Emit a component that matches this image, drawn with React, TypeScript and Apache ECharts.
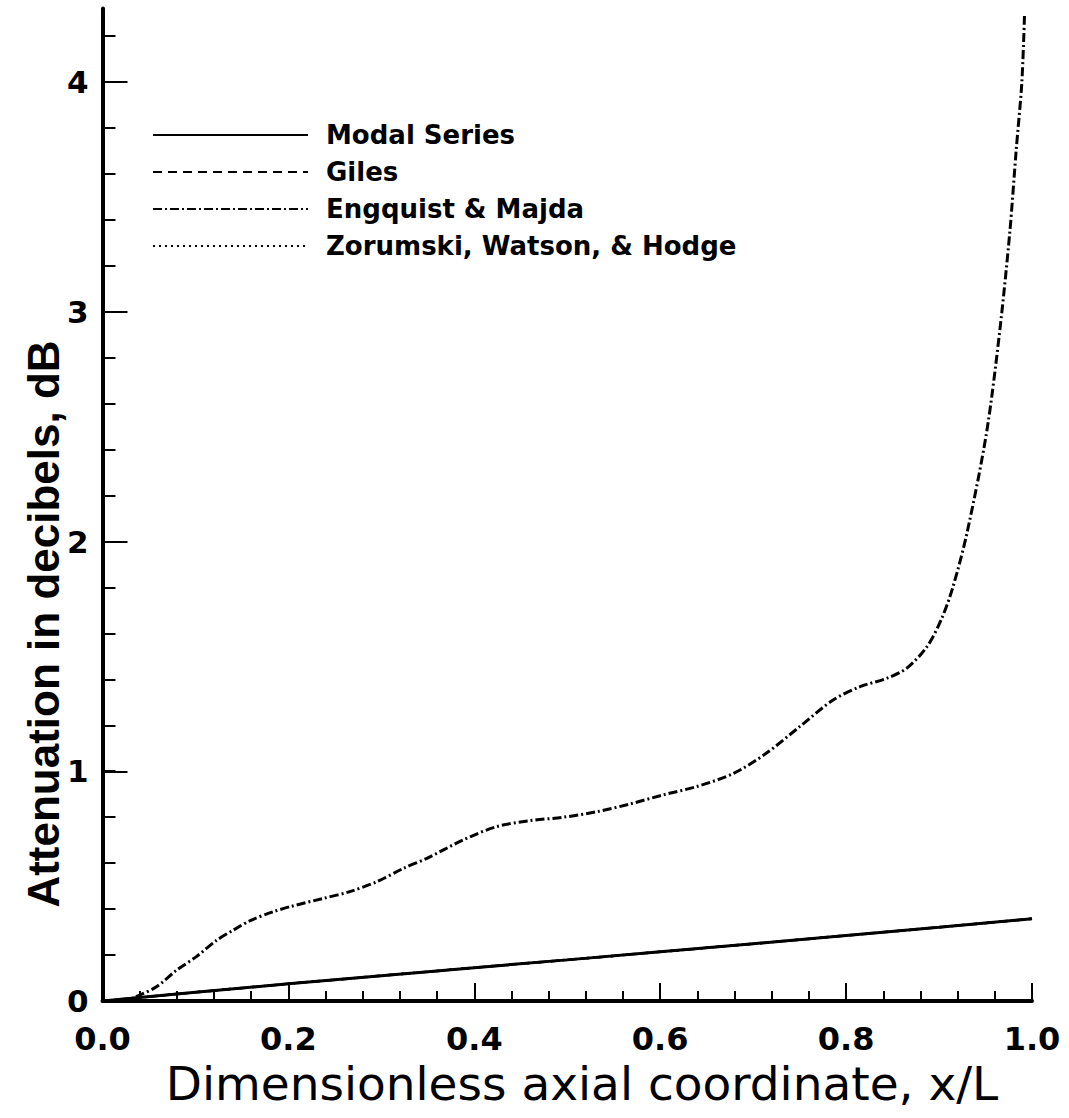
import React, { useEffect, useRef } from "react";
import * as echarts from "echarts";

const seriesNames = ["Modal Series", "Giles", "Engquist & Majda", "Zorumski, Watson, & Hodge"];

const xTicks = [0, 0.2, 0.4, 0.6, 0.8, 1.0];
const yTicks = [0, 1, 2, 3, 4];

const modalSeries: [number, number][] = [
  [0, 0], [0.1, 0.038], [0.2, 0.075], [0.3, 0.11], [0.4, 0.145], [0.5, 0.179],
  [0.6, 0.214], [0.7, 0.249], [0.8, 0.285], [0.9, 0.321], [1.0, 0.358],
];

const giles: [number, number][] = [
  [0, 0], [0.1, 0.038], [0.2, 0.075], [0.3, 0.11], [0.4, 0.145], [0.5, 0.179],
  [0.6, 0.214], [0.7, 0.249], [0.8, 0.285], [0.9, 0.321], [1.0, 0.358],
];

const zorumski: [number, number][] = [
  [0, 0], [0.1, 0.038], [0.2, 0.075], [0.3, 0.11], [0.4, 0.145], [0.5, 0.179],
  [0.6, 0.214], [0.7, 0.249], [0.8, 0.285], [0.9, 0.321], [1.0, 0.358],
];

const engquistMajda: [number, number][] = [
  [0, 0], [0.025, 0.004], [0.04, 0.026], [0.058, 0.062], [0.08, 0.135], [0.101, 0.193],
  [0.123, 0.265], [0.141, 0.309], [0.159, 0.35], [0.184, 0.389], [0.202, 0.411],
  [0.238, 0.447], [0.266, 0.476], [0.295, 0.519], [0.324, 0.578], [0.349, 0.621],
  [0.388, 0.701], [0.424, 0.759], [0.46, 0.785], [0.496, 0.8], [0.532, 0.824],
  [0.567, 0.857], [0.603, 0.897], [0.639, 0.933], [0.679, 0.991], [0.714, 1.078],
  [0.75, 1.194], [0.786, 1.31], [0.815, 1.368], [0.844, 1.405], [0.865, 1.448],
  [0.887, 1.542], [0.903, 1.666], [0.915, 1.803], [0.93, 2.036], [0.951, 2.471],
  [0.965, 2.906], [0.976, 3.341], [0.983, 3.704], [0.989, 3.994], [0.992, 4.299],
];

const xTitle = "Dimensionless axial coordinate, x/L";
const yTitle = "Attenuation in decibels, dB";

export default function App() {
  const ref = useRef<HTMLDivElement>(null);

  useEffect(() => {
    if (!ref.current) return;
    const chart = echarts.init(ref.current, undefined, { renderer: "svg" });
    const black = "#000";
    const tickFont = {
      fontFamily: "DejaVu Sans",
      fontWeight: "bold" as const,
      fontSize: 32,
      lineHeight: 32,
      color: black,
    };
    const hiddenX = { type: "value" as const, min: 0, max: 1, show: false };

    const option: any = {
      animation: false,
      backgroundColor: "#fff",
      grid: [
        { left: 102.5, right: 37, top: 8.5, bottom: 117 },
        { left: 102.5, right: 37, top: 36, bottom: 117 },
        { left: 102.5, right: 37, top: 82, bottom: 117 },
      ],
      xAxis: [
        {
          type: "value",
          gridIndex: 0,
          min: xTicks[0],
          max: xTicks[xTicks.length - 1],
          interval: 0.2,
          axisLine: { show: true, onZero: false, lineStyle: { color: black, width: 4 } },
          axisTick: { show: true, inside: true, length: 18, lineStyle: { color: black, width: 2 } },
          minorTick: { show: true, splitNumber: 5, length: 10, lineStyle: { color: black, width: 2 } },
          splitLine: { show: false },
          minorSplitLine: { show: false },
          axisLabel: { ...tickFont, margin: 22, formatter: (v: number) => v.toFixed(1) },
        },
        { ...hiddenX, gridIndex: 1 },
        { ...hiddenX, gridIndex: 2 },
      ],
      yAxis: [
        {
          type: "value",
          gridIndex: 0,
          min: 0,
          max: 4.32,
          axisLine: { show: true, onZero: false, lineStyle: { color: black, width: 4 } },
          axisTick: { show: false },
          axisLabel: { show: false },
          splitLine: { show: false },
        },
        {
          type: "value",
          gridIndex: 1,
          min: 0,
          max: 4.2,
          interval: 0.2,
          axisLine: { show: false },
          axisTick: { show: true, inside: true, length: 13, lineStyle: { color: black, width: 2 } },
          axisLabel: { show: false },
          splitLine: { show: false },
        },
        {
          type: "value",
          gridIndex: 2,
          min: yTicks[0],
          max: yTicks[yTicks.length - 1],
          interval: 1,
          axisLine: { show: false },
          axisTick: { show: true, inside: true, length: 25, lineStyle: { color: black, width: 2 } },
          axisLabel: { ...tickFont, fontSize: 31, lineHeight: 31, margin: 14, formatter: (v: number) => String(v) },
          splitLine: { show: false },
        },
      ],
      legend: {
        orient: "vertical",
        left: 152,
        top: 122,
        padding: 0,
        itemWidth: 155,
        itemHeight: 14,
        itemGap: 11,
        selectedMode: false,
        data: seriesNames,
        itemStyle: { color: "rgba(0,0,0,0)", borderWidth: 0, opacity: 0 },
        textStyle: {
          fontFamily: "DejaVu Sans",
          fontWeight: "bold",
          fontSize: 26,
          lineHeight: 26,
          color: black,
          padding: [0, 0, 0, 13],
        },
      },
      graphic: [
        {
          type: "text",
          x: 582,
          y: 1083,
          style: {
            text: xTitle,
            font: '47px "DejaVu Sans"',
            lineHeight: 47,
            fill: black,
            align: "center",
            verticalAlign: "middle",
          },
        },
        {
          type: "text",
          x: 43,
          y: 624,
          rotation: Math.PI / 2,
          style: {
            text: yTitle,
            font: 'bold 44px "Liberation Sans"',
            fill: black,
            align: "center",
            verticalAlign: "middle",
          },
        },
      ],
      series: [
        {
          name: seriesNames[1],
          type: "line",
          data: giles,
          symbol: "none",
          lineStyle: { color: black, width: 2.5, type: [9, 6] },
          itemStyle: { color: black },
        },
        {
          name: seriesNames[3],
          type: "line",
          data: zorumski,
          symbol: "none",
          lineStyle: { color: black, width: 2.5, type: [2, 4] },
          itemStyle: { color: black },
        },
        {
          name: seriesNames[0],
          type: "line",
          data: modalSeries,
          symbol: "none",
          lineStyle: { color: black, width: 3, type: "solid" },
          itemStyle: { color: black },
        },
        {
          name: seriesNames[2],
          type: "line",
          data: engquistMajda,
          symbol: "none",
          smooth: 0.3,
          lineStyle: { color: black, width: 3, type: [9, 3, 2, 3] },
          itemStyle: { color: black },
        },
      ],
    };
    chart.setOption(option);
    return () => chart.dispose();
  }, []);

  return (
    <div
      ref={ref}
      style={{ position: "fixed", left: 0, top: 0, width: 1069, height: 1118, background: "#fff" }}
    />
  );
}
